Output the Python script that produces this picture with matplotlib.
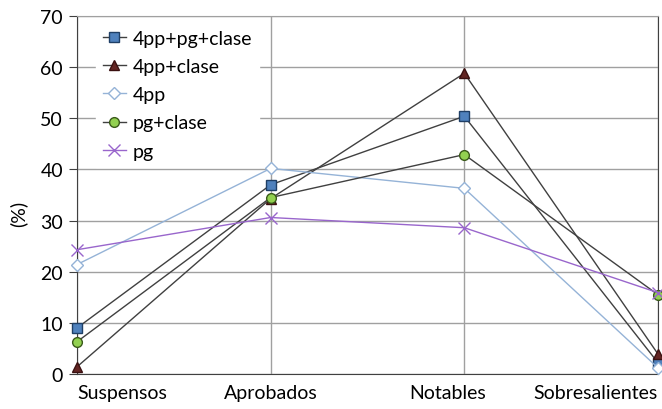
import matplotlib.pyplot as plt
from matplotlib.transforms import ScaledTranslation

categories = ["Suspensos", "Aprobados", "Notables", "Sobresalientes"]
series_names = ["4pp+pg+clase", "4pp+clase", "4pp", "pg+clase", "pg"]
v_4pp_pg_clase = [9.0, 37.0, 50.4, 2.2]
v_4pp_clase = [1.4, 34.3, 58.8, 3.9]
v_4pp = [21.4, 40.2, 36.3, 1.2]
v_pg_clase = [6.3, 34.5, 42.9, 15.5]
v_pg = [24.3, 30.6, 28.6, 15.9]

plt.rcParams["font.family"] = ["Lato", "DejaVu Sans"]
FS = 14

fig = plt.figure(figsize=(6.62, 4.10), dpi=100)
ax = fig.add_axes([77 / 662, 35 / 410, 581 / 662, 358 / 410])

x = list(range(len(categories)))
styles = [
    dict(color="#404040", marker="s", mfc="#4F81BD", mec="#1F3F66", ms=7),
    dict(color="#404040", marker="^", mfc="#632523", mec="#3a1010", ms=7),
    dict(color="#95B3D7", marker="D", mfc="white", mec="#95B3D7", ms=6),
    dict(color="#404040", marker="o", mfc="#92D050", mec="#3a5a1a", ms=7),
    dict(color="#9966CC", marker="x", mfc="none", mec="#9966CC", ms=9, mew=1.0),
]
values = [v_4pp_pg_clase, v_4pp_clase, v_4pp, v_pg_clase, v_pg]
for name, vals, st in zip(series_names, values, styles):
    ax.plot(x, vals, lw=1.0, label=name, clip_on=False, zorder=3, **st)

ax.set_xlim(0, 3)
ax.set_ylim(0, 70)
ax.set_yticks(range(0, 71, 10))
ax.set_xticks(x)
ax.set_xticklabels(categories, fontsize=FS)
ax.tick_params(axis="x", length=0, pad=7)
ax.tick_params(axis="y", length=6, labelsize=FS, direction="out", pad=4,
               color="#404040")

# label placement as in the original (Excel-style)
labs = ax.get_xticklabels()
labs[0].set_horizontalalignment("left")
labs[2].set_transform(labs[2].get_transform()
                      + ScaledTranslation(-17 / 100, 0, fig.dpi_scale_trans))
labs[3].set_horizontalalignment("right")

ax.set_ylabel("(%)", fontsize=FS)
ax.yaxis.set_label_coords(-0.085, 0.45)
ax.grid(True, color="#a0a0a0", lw=1.0)
for s in ax.spines.values():
    s.set_color("#404040")
ax.spines["top"].set_color("#a0a0a0")

leg = ax.legend(loc="upper left", bbox_to_anchor=(12 / 581, 1.0), frameon=True,
                fontsize=FS, handlelength=1.2, borderpad=0.35, labelspacing=0.58,
                handletextpad=0.35, borderaxespad=0.35)
leg.get_frame().set_edgecolor("white")
leg.get_frame().set_facecolor("white")
leg.get_frame().set_alpha(1.0)
leg.get_frame().set_boxstyle("square", pad=0)

fig.savefig("out.png", dpi=100)
